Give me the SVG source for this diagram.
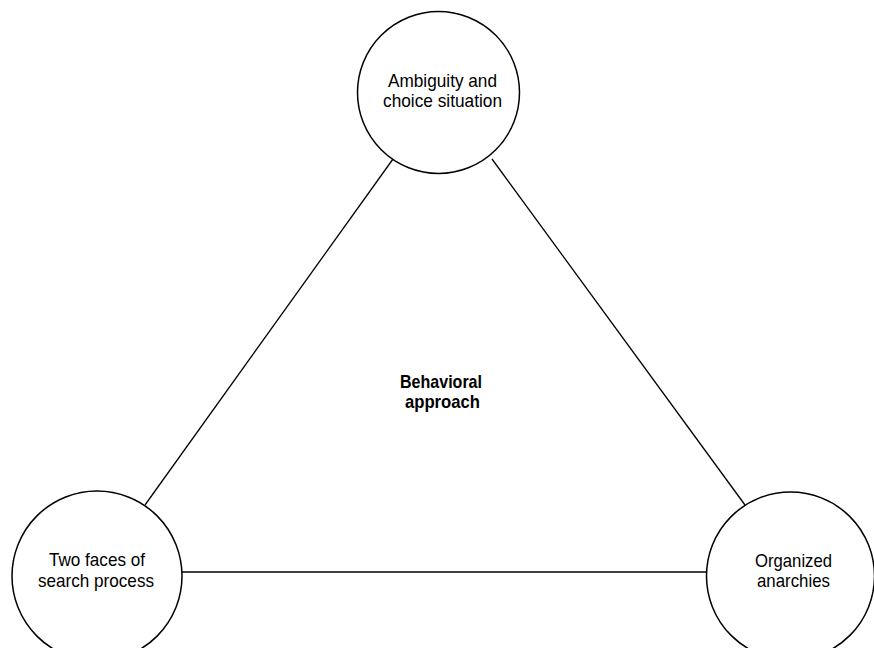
<svg xmlns="http://www.w3.org/2000/svg" width="874" height="648" viewBox="0 0 874 648">
<style>
.node{fill:#fff;stroke:#000;stroke-width:1.5}
.edge{stroke:#000;stroke-width:1.3;fill:none}
.lbl{font-family:"Liberation Sans Narrow","Liberation Sans",Arial,sans-serif;font-size:19px;fill:#000;text-anchor:middle}
.bold{font-weight:bold}
</style>
<rect width="874" height="648" fill="#fff"/>
<g id="connectors">
<line class="edge" x1="393" y1="159" x2="145" y2="505"/>
<line class="edge" x1="492" y1="159" x2="745" y2="505"/>
<line class="edge" x1="182" y1="572" x2="707" y2="572"/>
</g>
<g id="center">
<text class="lbl bold" x="441" y="387.5" textLength="82" lengthAdjust="spacingAndGlyphs">Behavioral</text>
<text class="lbl bold" x="442.5" y="407.5" textLength="75" lengthAdjust="spacingAndGlyphs">approach</text>
</g>
<g id="ambiguity">
<circle class="node" cx="438.5" cy="92.5" r="81"/>
<text class="lbl" x="442.5" y="87" textLength="109" lengthAdjust="spacingAndGlyphs">Ambiguity and</text>
<text class="lbl" x="442.5" y="107" textLength="119" lengthAdjust="spacingAndGlyphs">choice situation</text>
</g>
<g id="twofaces">
<circle class="node" cx="97" cy="576" r="85"/>
<text class="lbl" x="97" y="566" textLength="96" lengthAdjust="spacingAndGlyphs">Two faces of</text>
<text class="lbl" x="96" y="587" textLength="116" lengthAdjust="spacingAndGlyphs">search process</text>
</g>
<g id="organized">
<circle class="node" cx="790.5" cy="576" r="84"/>
<text class="lbl" x="793.5" y="567" textLength="77" lengthAdjust="spacingAndGlyphs">Organized</text>
<text class="lbl" x="793.5" y="587" textLength="73" lengthAdjust="spacingAndGlyphs">anarchies</text>
</g>
</svg>
